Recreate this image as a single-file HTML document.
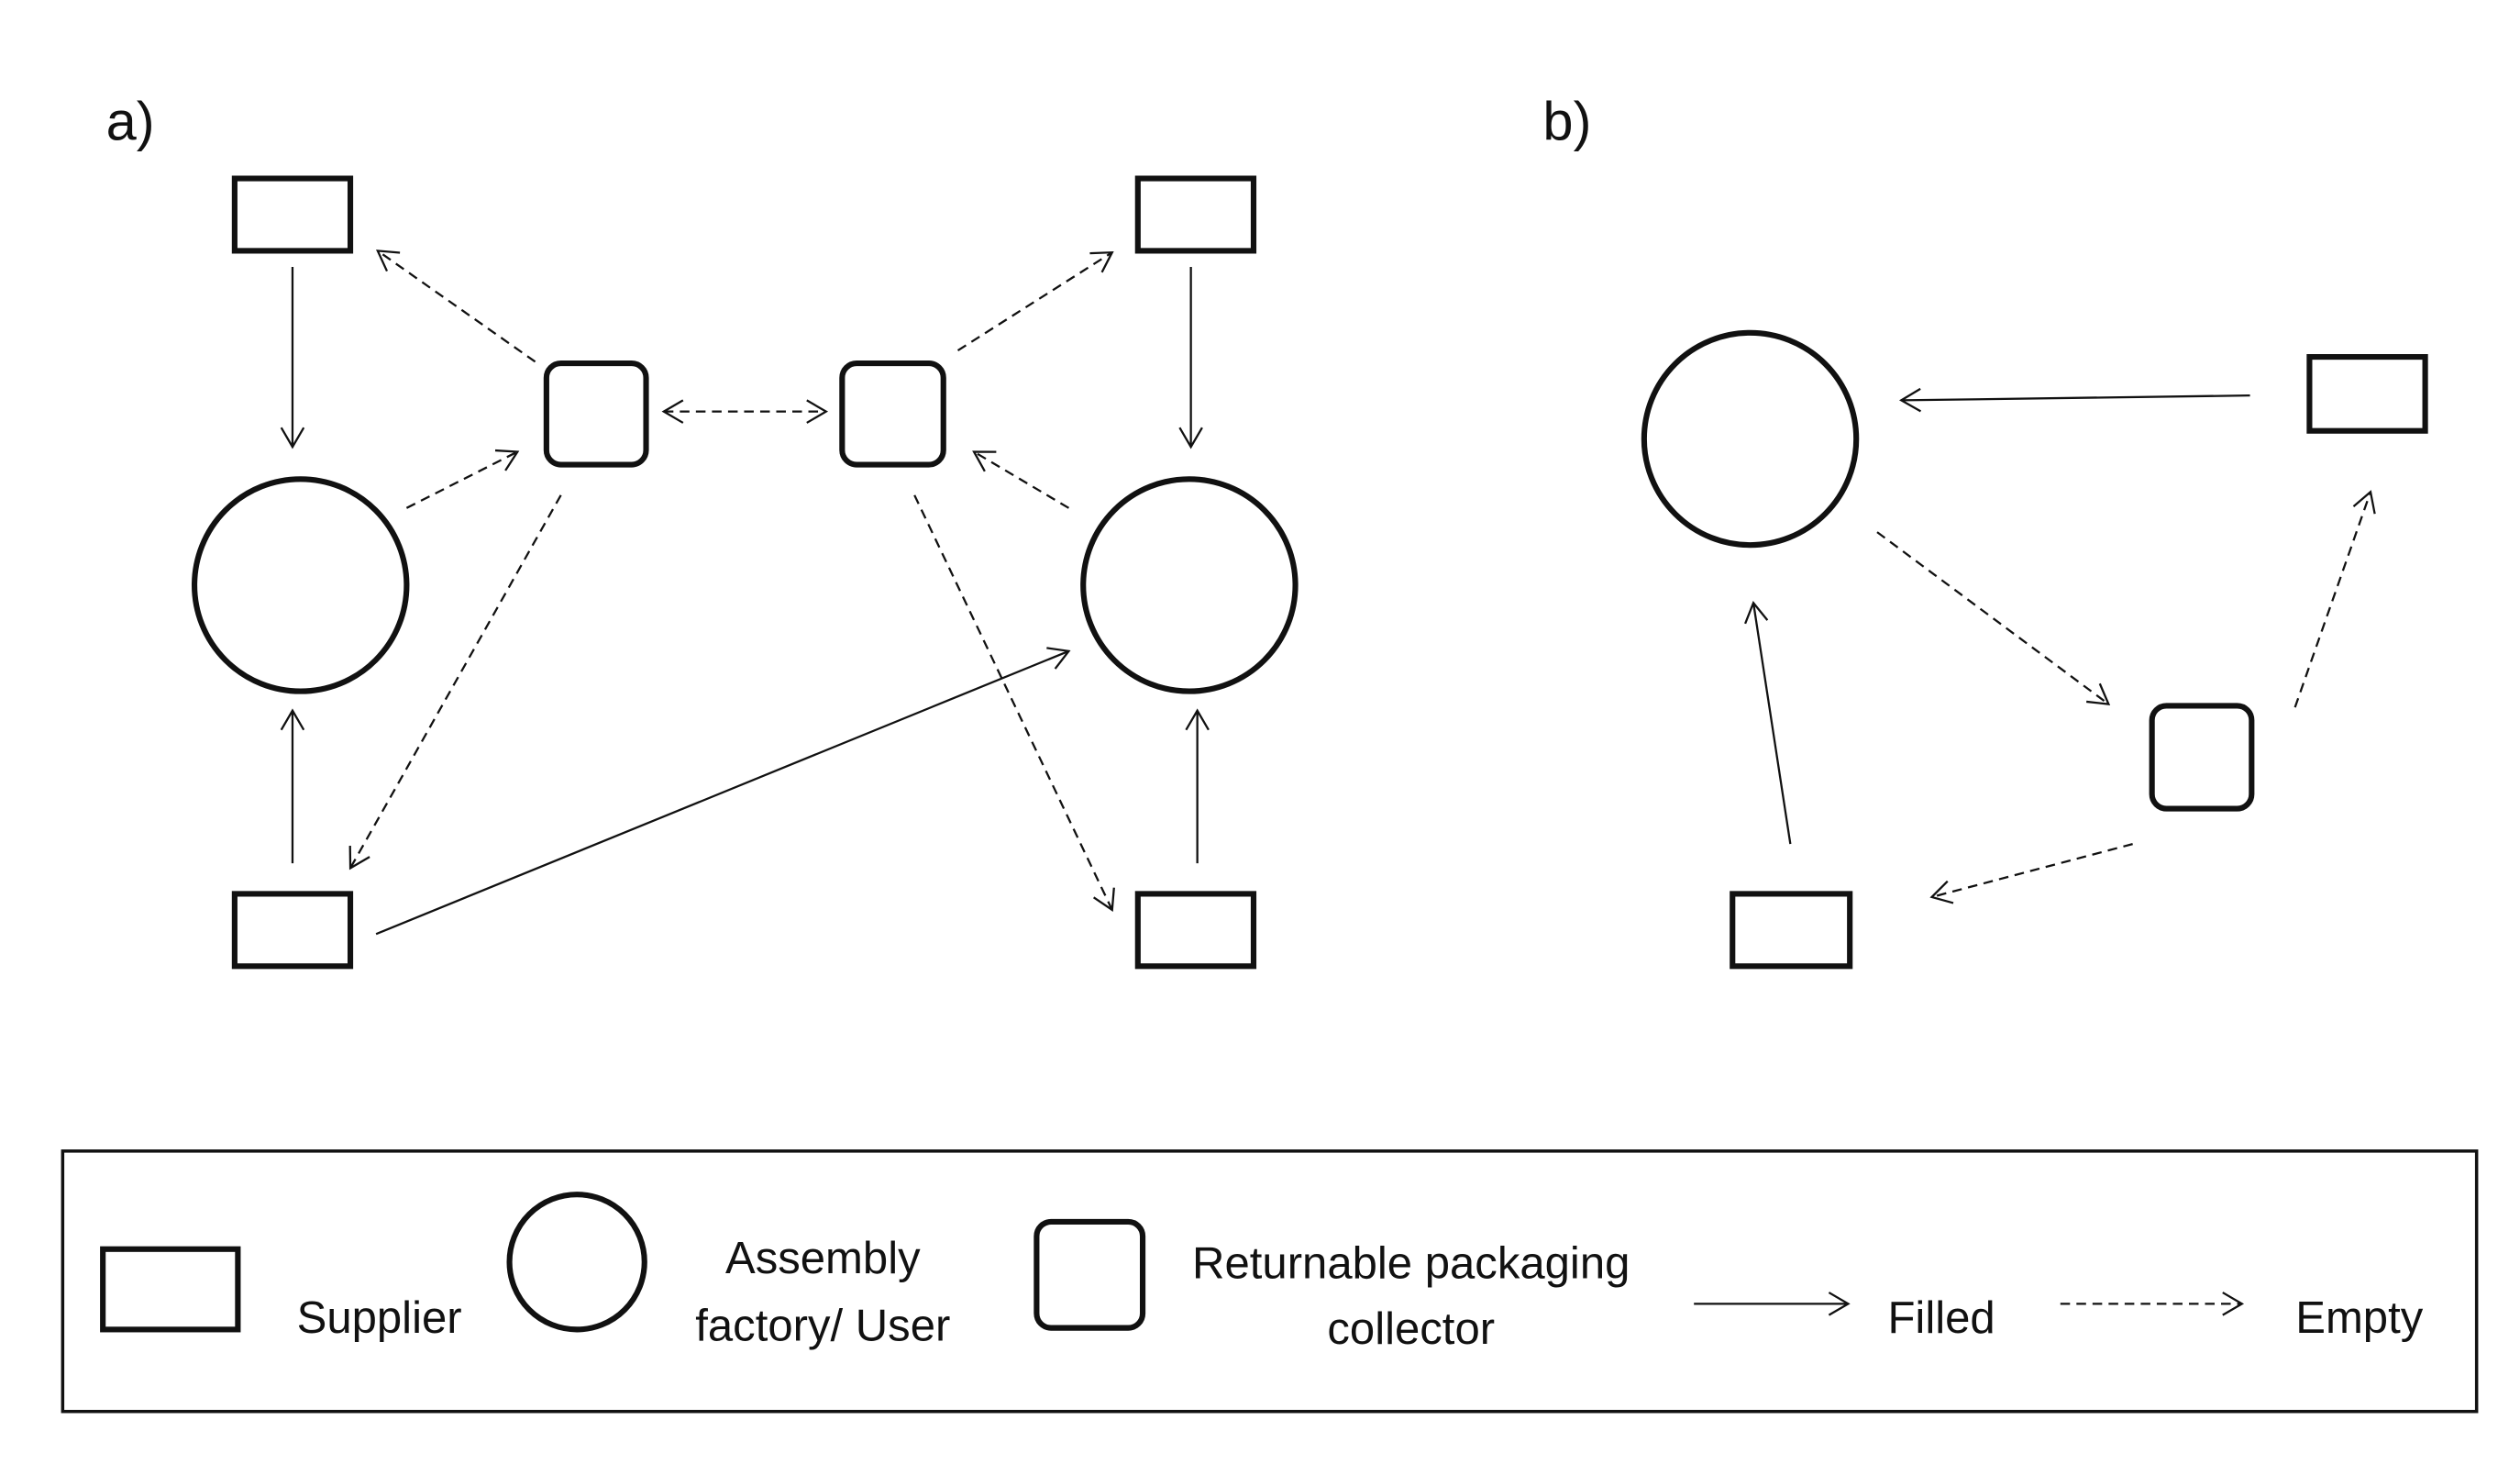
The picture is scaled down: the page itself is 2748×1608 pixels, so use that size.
<!DOCTYPE html>
<html><head><meta charset="utf-8"><style>
html,body{margin:0;padding:0;background:#fff;}
svg{display:block;}
text{font-family:"Liberation Sans",sans-serif;fill:#111;}
</style></head><body>
<svg width="2748" height="1608" viewBox="0 0 1568 917.5" xmlns="http://www.w3.org/2000/svg">
<defs>
<marker id="a" markerWidth="16" markerHeight="16" refX="13" refY="8" orient="auto" markerUnits="userSpaceOnUse">
<path d="M1,1 L13,8 L1,15" fill="none" stroke="#111" stroke-width="1.3"/>
</marker>
<marker id="s" markerWidth="16" markerHeight="16" refX="3" refY="8" orient="auto" markerUnits="userSpaceOnUse">
<path d="M15,1 L3,8 L15,15" fill="none" stroke="#111" stroke-width="1.3"/>
</marker>
</defs>
<rect width="1568" height="917.5" fill="#fff"/>
<text x="66" y="87" font-size="34">a)</text>
<text x="960" y="87" font-size="34">b)</text>
<g fill="none" stroke="#111" stroke-width="3.5">
<rect x="146" y="111" width="72" height="45"/>
<rect x="146" y="556" width="72" height="45"/>
<rect x="708" y="111" width="72" height="45"/>
<rect x="708" y="556" width="72" height="45"/>
<circle cx="187" cy="364" r="66"/>
<circle cx="740" cy="364" r="66"/>
<rect x="340" y="226" width="62" height="63" rx="9"/>
<rect x="524" y="226" width="63" height="63" rx="9"/>
<circle cx="1089" cy="273" r="66"/>
<rect x="1437" y="222" width="72" height="46"/>
<rect x="1339" y="439" width="62" height="64" rx="9"/>
<rect x="1078" y="556" width="73" height="45"/>
</g>
<g fill="none" stroke="#111" stroke-width="1.3" marker-end="url(#a)">
<line x1="182" y1="166" x2="182" y2="278"/>
<line x1="182" y1="537" x2="182" y2="442"/>
<line x1="741" y1="166" x2="741" y2="278"/>
<line x1="745" y1="537" x2="745" y2="442"/>
<line x1="234" y1="581" x2="665" y2="405"/>
<line x1="1400" y1="246" x2="1183" y2="249"/>
<line x1="1114" y1="525" x2="1091" y2="375"/>
<g stroke-dasharray="6,4">
<line x1="333" y1="225" x2="235" y2="156"/>
<line x1="253" y1="316" x2="322" y2="281"/>
<line x1="413" y1="256" x2="514" y2="256" marker-start="url(#s)"/>
<line x1="349" y1="308" x2="218" y2="540"/>
<line x1="596" y1="218" x2="692" y2="157"/>
<line x1="665" y1="316" x2="606" y2="281"/>
<line x1="569" y1="308" x2="692" y2="566"/>
<line x1="1168" y1="331" x2="1312" y2="438"/>
<line x1="1428" y1="440" x2="1475" y2="306"/>
<line x1="1327" y1="525" x2="1202" y2="558"/>
</g>
<line x1="1054" y1="811" x2="1150" y2="811"/>
<line x1="1282" y1="811" x2="1395" y2="811" stroke-dasharray="6,4"/>
</g>
<rect x="39" y="716" width="1502" height="162" fill="none" stroke="#111" stroke-width="2"/>
<g fill="none" stroke="#111" stroke-width="3.5">
<rect x="64" y="777" width="84" height="50"/>
<circle cx="359" cy="785" r="42"/>
<rect x="645" y="760" width="66" height="66" rx="9"/>
</g>
<g font-size="28" text-anchor="middle">
<text x="236" y="829">Supplier</text>
<text x="512" y="792">Assembly</text>
<text x="512" y="834">factory/ User</text>
<text x="878" y="795">Returnable packaging</text>
<text x="878" y="836">collector</text>
<text x="1208" y="829">Filled</text>
<text x="1468" y="829">Empty</text>
</g>
</svg>
</body></html>
